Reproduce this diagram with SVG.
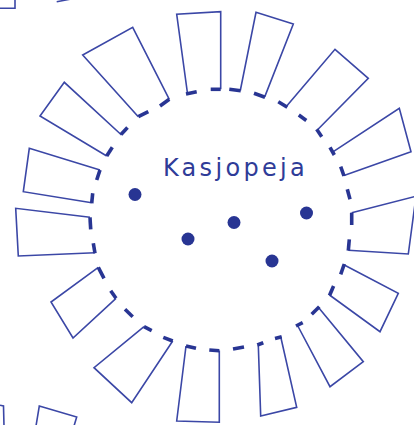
<svg xmlns="http://www.w3.org/2000/svg" width="414" height="425" viewBox="0 0 414 425">
<style>
.ray{fill:none;stroke:#3b47a6;stroke-width:1.6;stroke-linejoin:miter}
.tick{stroke:#283593;stroke-width:3.6;stroke-linecap:butt}
.star{fill:#283593}
.label{font-family:"DejaVu Sans",Verdana,sans-serif;font-size:24px;fill:#2f3c98;letter-spacing:3.3px}
</style>
<rect width="414" height="425" fill="#ffffff"/>
<g id="rays">
<polyline class="ray" points="0,8.3 15,8.3 15,0"/>
<polyline class="ray" points="56.7,1.8 71,-1"/>
<polyline class="ray" points="0,405.3 3.5,406 4,426"/>
<polyline class="ray" points="36,426 39.3,406 76.7,417 74,426"/>
<polyline class="ray" points="138.3,116.7 82.7,55 132.7,27.3 169.3,99.3"/>
<polyline class="ray" points="106.7,156 40,116 64.3,82.3 121.5,135"/>
<polyline class="ray" points="100,170 29.3,148.3 23.3,191.7 91.7,202.7"/>
<polyline class="ray" points="90,217.3 15.7,208.3 18.3,256 95,252.7"/>
<polyline class="ray" points="98.3,267.3 51,302 73,338 116,298.3"/>
<polyline class="ray" points="144,326.7 94,367.7 131.7,402.7 172.7,341"/>
<polyline class="ray" points="186,346 176.7,421 219.3,422.3 219.3,350.5"/>
<polyline class="ray" points="258.3,345 260.7,416 296.7,407.3 280.7,336.7"/>
<polyline class="ray" points="297.3,325 330,386.7 363.3,361.7 318.3,307.3"/>
<polyline class="ray" points="329.5,295 380,331.7 398.3,293.3 344.3,265"/>
<polyline class="ray" points="348.3,250.3 408.3,254 416,196.2 351.7,212.7"/>
<polyline class="ray" points="344,175.5 411,151.7 399.3,108.3 333.3,151.7"/>
<polyline class="ray" points="317.3,130 368.3,78.3 335,49.3 286.7,106"/>
<polyline class="ray" points="264.7,96.9 293.3,24 256,12.3 240.3,90.5"/>
<polyline class="ray" points="220.7,89.3 220.7,11.7 176.7,14.3 187.5,93.5"/>
</g>
<g id="ring">
<line class="tick" x1="138.3" y1="116.7" x2="148.3" y2="111.7"/>
<line class="tick" x1="160" y1="106" x2="169.3" y2="99.3"/>
<line class="tick" x1="186" y1="94" x2="196.7" y2="91.7"/>
<line class="tick" x1="210.7" y1="89.3" x2="220.7" y2="89.3"/>
<line class="tick" x1="229.3" y1="89.3" x2="240.7" y2="90.7"/>
<line class="tick" x1="254" y1="93.3" x2="265" y2="97.3"/>
<line class="tick" x1="278.3" y1="101.7" x2="287.3" y2="107.3"/>
<line class="tick" x1="298.8" y1="115" x2="306.3" y2="120.5"/>
<line class="tick" x1="316.7" y1="129.3" x2="321.7" y2="136.7"/>
<line class="tick" x1="330" y1="147.3" x2="334.3" y2="155"/>
<line class="tick" x1="340.7" y1="166.7" x2="344" y2="176"/>
<line class="tick" x1="347.3" y1="189.3" x2="350" y2="199.3"/>
<line class="tick" x1="351.7" y1="212.7" x2="351.7" y2="225"/>
<line class="tick" x1="349.3" y1="239.3" x2="348.3" y2="250.7"/>
<line class="tick" x1="344.3" y1="264" x2="340.7" y2="274.3"/>
<line class="tick" x1="333.6" y1="286" x2="329.5" y2="295.5"/>
<line class="tick" x1="319.3" y1="306.7" x2="311.7" y2="314.3"/>
<line class="tick" x1="302.7" y1="322.7" x2="296" y2="326"/>
<line class="tick" x1="281.7" y1="336.7" x2="275" y2="338.5"/>
<line class="tick" x1="263.3" y1="342.7" x2="257.3" y2="345"/>
<line class="tick" x1="244" y1="347" x2="233" y2="349"/>
<line class="tick" x1="219.3" y1="350.8" x2="209.3" y2="350"/>
<line class="tick" x1="196" y1="348.3" x2="186" y2="346"/>
<line class="tick" x1="172.7" y1="341" x2="163.3" y2="337.3"/>
<line class="tick" x1="151.7" y1="330.7" x2="144" y2="326.7"/>
<line class="tick" x1="132.7" y1="316.7" x2="125" y2="309.3"/>
<line class="tick" x1="116" y1="298.3" x2="110.7" y2="290.7"/>
<line class="tick" x1="104" y1="278.3" x2="98.3" y2="267.3"/>
<line class="tick" x1="95" y1="253.3" x2="93.3" y2="243.3"/>
<line class="tick" x1="90.7" y1="229.3" x2="90" y2="217.3"/>
<line class="tick" x1="91.7" y1="203.3" x2="92.7" y2="193.3"/>
<line class="tick" x1="96.7" y1="180" x2="100" y2="170"/>
<line class="tick" x1="106.7" y1="156" x2="112.3" y2="147.3"/>
<line class="tick" x1="121" y1="134.5" x2="127.5" y2="127.5"/>
</g>
<g id="stars">
<circle class="star" cx="135" cy="194.5" r="6.5"/>
<circle class="star" cx="188" cy="239" r="6.5"/>
<circle class="star" cx="234" cy="222.5" r="6.5"/>
<circle class="star" cx="306.5" cy="213" r="6.5"/>
<circle class="star" cx="272" cy="261" r="6.5"/>
</g>
<g id="title">
<text class="label" x="163" y="176">Kasjopeja</text>
</g>
</svg>
